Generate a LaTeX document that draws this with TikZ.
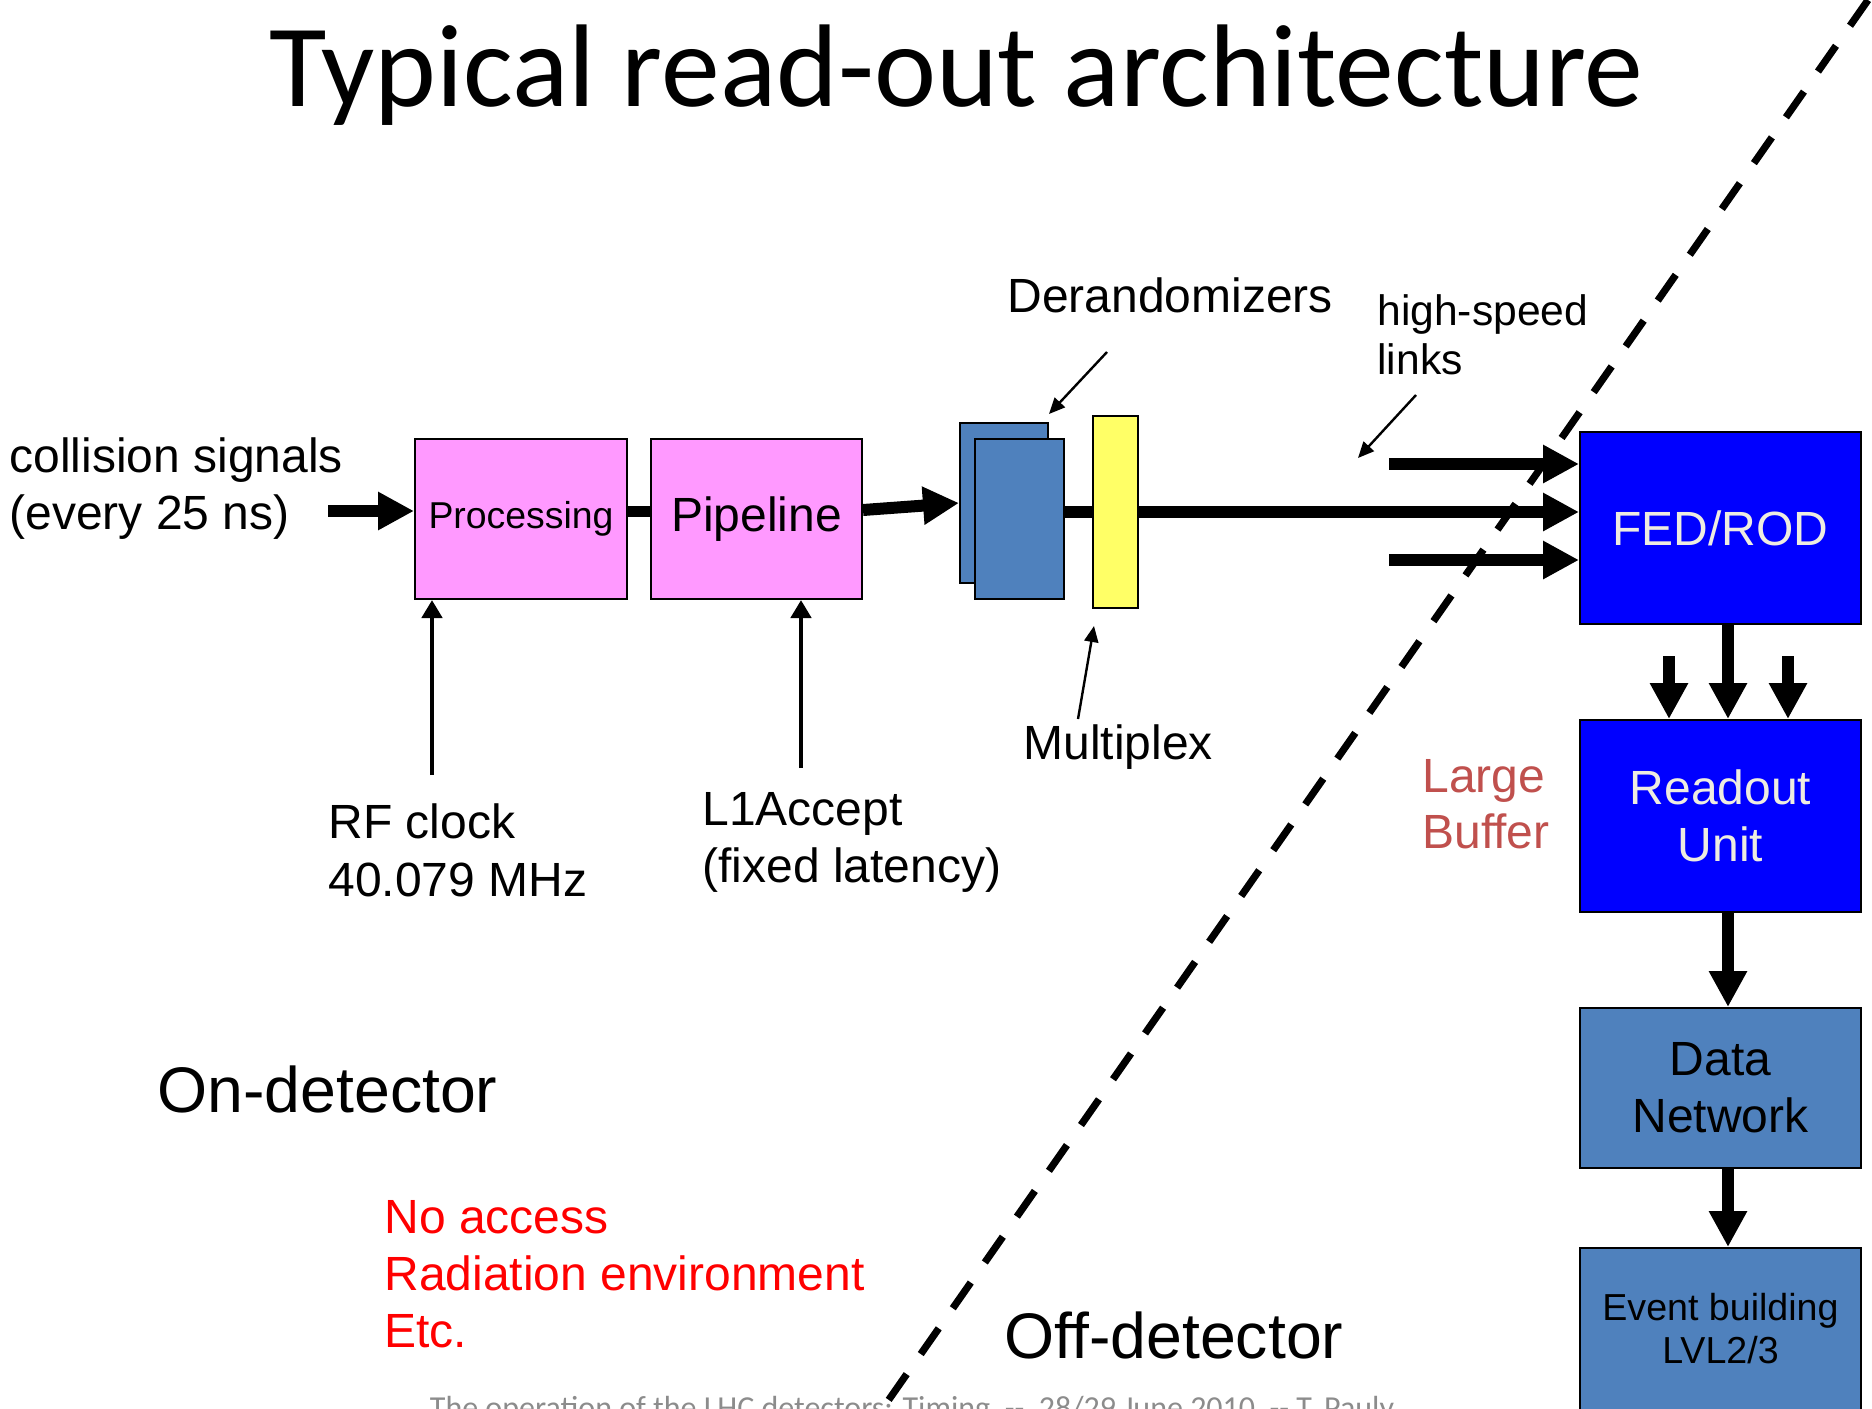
\documentclass[tikz,border=0pt]{standalone}
\usepackage{fontspec}
\setmainfont{Liberation Sans}
\newfontfamily\slidefont{Carlito}
\usetikzlibrary{arrows.meta,calc}
\definecolor{pinkfill}{RGB}{255,153,255}
\definecolor{steelfill}{RGB}{79,129,189}
\definecolor{yellowfill}{RGB}{255,255,102}
\definecolor{purefill}{RGB}{0,0,255}
\definecolor{paletext}{RGB}{238,236,225}
\definecolor{buffertext}{RGB}{192,80,77}
\definecolor{footgray}{RGB}{140,140,140}
\newcommand\fsz[2]{\fontsize{#1pt}{#2pt}\selectfont}

\begin{document}
\begin{tikzpicture}[x=0.5pt,y=-0.5pt,
  box/.style={draw=black, line width=1pt, inner sep=0pt, align=center},
  pinkbox/.style={box, fill=pinkfill, minimum height=80pt},
  steelbox/.style={box, fill=steelfill},
  purebox/.style={box, fill=purefill, text=paletext, font=\fsz{24}{28.5}},
  lbl/.style={anchor=base west, inner sep=0pt, font=\fsz{24}{28.5}},
  flow/.style={line width=6pt, -{Triangle[length=18pt,width=18pt]}},
  ctl/.style={line width=2.25pt, -{Triangle[length=9pt,width=10pt]}},
  note/.style={line width=1.2pt, -{Triangle[length=8pt,width=7pt]}},
  border/.style={line width=3.6pt, dash pattern=on 15.7pt off 12.25pt}]
\useasboundingbox (0,0) rectangle (1872,1408);
\fill[white] (0,0) rectangle (1872,1408);

% title and footer
\node[anchor=base, inner sep=0pt, font=\slidefont\fsz{58.8}{64}] (title) at (956.5,106) {Typical read-out architecture};
\node[anchor=base, inner sep=0pt, text=footgray, font=\slidefont\fsz{16}{19}] (foot) at (912,1418)
  {The operation of the LHC detectors: Timing\ \ -{}-\ \ 28/29 June 2010\ \ -{}- T. Pauly};

% front-end chain
\node[pinkbox, minimum width=106pt, font=\fsz{18.7}{22}] (proc) at (521,519) {Processing};
\node[pinkbox, minimum width=105.5pt, font=\fsz{24}{28}] (pipe) at (756.5,519) {Pipeline};
\node[steelbox, minimum width=44pt, minimum height=80pt] (derb) at (1004,503) {};
\node[steelbox, minimum width=44.5pt, minimum height=80pt] (derf) at (1019.5,519) {};

% off-detector chain
\node[purebox, minimum width=140.5pt, minimum height=96pt] (fed) at (1720.5,528) {FED/ROD};
\node[purebox, minimum width=140.5pt, minimum height=96pt] (ru) at (1720.5,816) {Readout\\Unit};
\node[steelbox, minimum width=140.5pt, minimum height=80pt, font=\fsz{24}{28.5}] (dn) at (1720.5,1088) {Data\\Network};
\node[steelbox, minimum width=140.5pt, minimum height=81pt, font=\fsz{18.8}{21.5}] (eb) at (1720.5,1329) {Event building\\LVL2/3};

% data path
\coordinate (sigtail) at (328,511);
\draw[flow] (sigtail) -- (sigtail -| proc.west);
\draw[line width=5.5pt] ($(proc.east)+(0,-8)$) -- ($(pipe.west)+(0,-8)$);
\draw[flow] ($(pipe.east)+(0,-9)$) -- (derb.west);
\draw[flow] ($(derf.east)+(0,-7)$) -- ($(fed.west)+(0,-16)$);
\node[box, fill=yellowfill, minimum width=22.5pt, minimum height=96pt] (mux) at (1115.5,512) {};

% high-speed links
\coordinate (linka) at (1389,464);
\coordinate (linkb) at (1389,560);
\draw[flow] (linka) -- (linka -| fed.west);
\draw[flow] (linkb) -- (linkb -| fed.west);

% into the readout unit and onwards
\coordinate (dropa) at (1669,656);
\coordinate (dropb) at (1788,656);
\draw[flow] ($(fed.south)+(7.5,0)$) -- ($(ru.north)+(7.5,0)$);
\draw[flow] (dropa) -- (dropa |- ru.north);
\draw[flow] (dropb) -- (dropb |- ru.north);
\draw[flow] ($(ru.south)+(7.5,0)$) -- ($(dn.north)+(7.5,0)$);
\draw[flow] ($(dn.south)+(7.5,0)$) -- ($(eb.north)+(7.5,0)$);

% control inputs
\coordinate (rfin) at (432,775);
\coordinate (l1in) at (801,768);
\draw[ctl] (rfin) -- (rfin |- proc.south);
\draw[ctl] (l1in) -- (l1in |- pipe.south);

% labels
\node[lbl] (cs1) at (9,472) {collision signals};
\node[lbl] (cs2) at (9,529) {(every 25 ns)};
\node[lbl] (rf1) at (328,838) {RF clock};
\node[lbl] (rf2) at (328,896) {40.079 MHz};
\node[lbl] (la1) at (702,825) {L1Accept};
\node[lbl] (la2) at (702,882) {(fixed latency)};
\node[lbl] (drz) at (1007,312) {Derandomizers};
\node[lbl, font=\fsz{21.3}{24.5}] (hs1) at (1377,325) {high-speed};
\node[lbl, font=\fsz{21.3}{24.5}] (hs2) at (1377,374) {links};
\node[lbl] (mpx) at (1023,759) {Multiplex};
\node[lbl, text=buffertext] (lb1) at (1422,792) {Large};
\node[lbl, text=buffertext] (lb2) at (1422,848) {Buffer};
\node[lbl, font=\fsz{32.2}{37}] (ond) at (157,1112) {On-detector};
\node[lbl, font=\fsz{32.2}{37}] (offd) at (1004,1358) {Off-detector};
\node[lbl, text=red] (na1) at (384,1233) {No access};
\node[lbl, text=red] (na2) at (384,1290) {Radiation environment};
\node[lbl, text=red] (na3) at (384,1347) {Etc.};

% pointer arrows
\coordinate (drzp) at (1107,352);
\draw[note] (drzp) -- ($(derb.north east)+(0,-8)$);
\coordinate (hsp) at (1416,395);
\coordinate (hsq) at (1358,458);
\draw[note] (hsp) -- (hsq);
\coordinate (mpxp) at (1078,719);
\draw[note] (mpxp) -- ($(mux.south)+(-21.5,17)$);

% boundary between on- and off-detector
\coordinate (cuta) at (1868,0);
\coordinate (cutb) at (883,1408);
\draw[border] (cuta) -- (cutb);
\end{tikzpicture}
\end{document}
